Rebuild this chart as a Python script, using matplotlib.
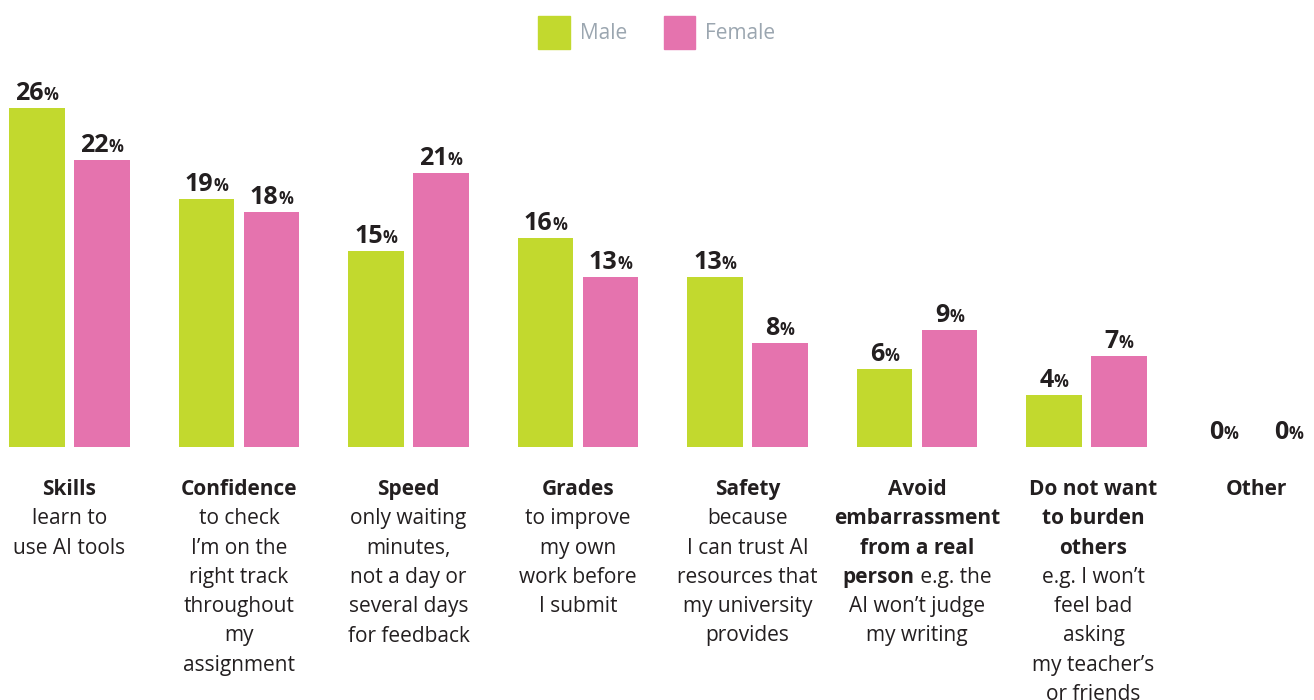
import numpy as np
import matplotlib.pyplot as plt
from matplotlib.patches import Patch
from matplotlib.transforms import IdentityTransform

plt.rcParams['font.family'] = ['Open Sans', 'DejaVu Sans']

male = [26, 19, 15, 16, 13, 6, 4, 0]
female = [22, 18, 21, 13, 8, 9, 7, 0]

# category labels: each line is a list of (text, bold?) runs
labels = [
    [[("Skills", 1)], [("learn to", 0)], [("use AI tools", 0)]],
    [[("Confidence", 1)], [("to check", 0)], [("I\u2019m on the", 0)], [("right track", 0)],
     [("throughout", 0)], [("my", 0)], [("assignment", 0)]],
    [[("Speed", 1)], [("only waiting", 0)], [("minutes,", 0)], [("not a day or", 0)],
     [("several days", 0)], [("for feedback", 0)]],
    [[("Grades", 1)], [("to improve", 0)], [("my own", 0)], [("work before", 0)], [("I submit", 0)]],
    [[("Safety", 1)], [("because", 0)], [("I can trust AI", 0)], [("resources that", 0)],
     [("my university", 0)], [("provides", 0)]],
    [[("Avoid", 1)], [("embarrassment", 1)], [("from a real", 1)],
     [("person", 1), (" e.g. the", 0)], [("AI won\u2019t judge", 0)], [("my writing", 0)]],
    [[("Do not want", 1)], [("to burden", 1)], [("others", 1)], [("e.g. I won\u2019t", 0)],
     [("feel bad", 0)], [("asking", 0)], [("my teacher\u2019s", 0)], [("or friends", 0)]],
    [[("Other", 1)]],
]

green = '#C2D92E'
pink = '#E573AE'
dark = '#231F20'
grey = '#9BA6B0'

fig = plt.figure(figsize=(13.14, 7), dpi=100)
ax = fig.add_axes([0, 0, 1, 1])

x = np.arange(len(male))
off = 0.1917
w = 0.33
ax.bar(x - off, male, w, color=green, label='Male')
ax.bar(x + off, female, w, color=pink, label='Female')

ax.set_xlim(-0.410, 7.342)
ax.set_ylim(-19.39, 34.25)
ax.axis('off')

renderer = fig.canvas.get_renderer()


def place_runs(runs, xc, yb, color=dark):
    # runs: (text, weight, size); centred at pixel xc, baseline at pixel yb
    objs = []
    for s, wt, size in runs:
        t = fig.text(0, 0, s, fontsize=size, fontweight=wt, color=color,
                     transform=IdentityTransform(), ha='left', va='baseline')
        objs.append(t)
    widths = [t.get_window_extent(renderer).width for t in objs]
    left = xc - sum(widths) / 2
    for t, wd in zip(objs, widths):
        t.set_position((left, yb))
        left += wd


# value labels
for vals, dx in ((male, -off), (female, off)):
    for i, v in enumerate(vals):
        px, py = ax.transData.transform((i + dx, v))
        place_runs([(str(v), 'bold', 18), ('%', 'bold', 12)], px, py + 8)

# category labels
H = fig.bbox.height
for i, lines in enumerate(labels):
    px = ax.transData.transform((i, 0))[0]
    if i == 6:
        px += 7
    for j, line in enumerate(lines):
        runs = [(s, 'bold' if b else 'normal', 15) for s, b in line]
        place_runs(runs, px, H - 495 - j * 29.3)

handles = [Patch(color=green), Patch(color=pink)]
leg = fig.legend(handles, ['Male', 'Female'], loc='upper center', ncol=2,
                 frameon=False, fontsize=15, handlelength=1.5, handleheight=2.1,
                 handletextpad=0.5, columnspacing=1.75, bbox_to_anchor=(0.5, 1.0),
                 borderaxespad=0.35)
for t in leg.get_texts():
    t.set_color(grey)

fig.savefig('out.png', dpi=100)
